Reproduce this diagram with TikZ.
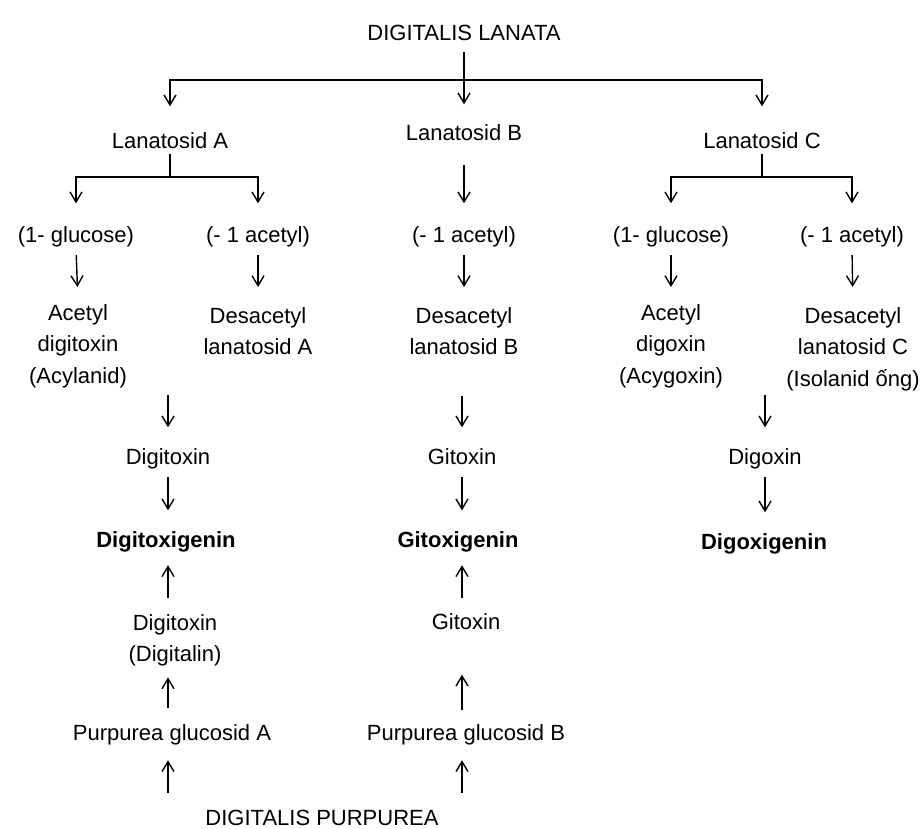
\documentclass[tikz,border=0pt]{standalone}
\usepackage{fontspec}
\setmainfont{Liberation Sans}
\usetikzlibrary{arrows.meta}
\begin{document}
\begin{tikzpicture}[x=1pt,y=-1pt,
  every node/.style={inner sep=0pt, font=\fontsize{22}{31.5}\selectfont},
  lbl/.style={text height=16pt, text depth=5pt},
  multi/.style={align=center, anchor=north},
  boldlbl/.style={lbl, font=\fontsize{22}{31.5}\selectfont\bfseries},
  ln/.style={line width=1.4pt},
  arr/.style={ln, -{Straight Barb[length=10pt,width=12pt,line width=1.4pt]}},
]
\useasboundingbox (0,0) rectangle (924,829);

% ---- nodes ----
\node[lbl] (lanata) at (464,35) {DIGITALIS LANATA};
\node[lbl] (lanA) at (170,143) {Lanatosid A};
\node[lbl] (lanB) at (464,135) {Lanatosid B};
\node[lbl] (lanC) at (762,143) {Lanatosid C};

\node[lbl] (gluA) at (76,237) {(1- glucose)};
\node[lbl] (acA) at (258,237) {(- 1 acetyl)};
\node[lbl] (acB) at (464,237) {(- 1 acetyl)};
\node[lbl] (gluC) at (671,237) {(1- glucose)};
\node[lbl] (acC) at (852,237) {(- 1 acetyl)};

\node[multi] (acylA) at (78,304) {Acetyl\\digitoxin\\(Acylanid)};
\node[multi] (desA) at (258,307) {Desacetyl\\lanatosid A};
\node[multi] (desB) at (464,307) {Desacetyl\\lanatosid B};
\node[multi] (acygC) at (671,304) {Acetyl\\digoxin\\(Acygoxin)};
\node[multi] (desC) at (853,307) {Desacetyl\\lanatosid C\\(Isolanid ống)};

\node[lbl] (dtxA) at (168,459) {Digitoxin};
\node[lbl] (gitB) at (462,459) {Gitoxin};
\node[lbl] (digC) at (765,459) {Digoxin};

\node[boldlbl] (dgA) at (166,542) {Digitoxigenin};
\node[boldlbl] (ggB) at (458,542) {Gitoxigenin};
\node[boldlbl] (dgC) at (764,544) {Digoxigenin};

\node[multi] (dtx2) at (175,614) {Digitoxin\\(Digitalin)};
\node[lbl] (gitB2) at (466,624) {Gitoxin};

\node[lbl] (purA) at (172,735) {Purpurea glucosid A};
\node[lbl] (purB) at (466,735) {Purpurea glucosid B};

\node[lbl] (purp) at (322,820) {DIGITALIS PURPUREA};

% ---- junctions ----
\coordinate (jTop) at (464,80);
\coordinate (jA) at (170,177);
\coordinate (jC) at (762,177);

% ---- connectors: top ----
\draw[arr, shorten <=6.5pt, shorten >=20pt] (lanata.south) -- (lanB.north);
\draw[arr, shorten >=26pt] (jTop) -| (lanA.north);
\draw[arr, shorten >=26pt] (jTop) -| (lanC.north);

\draw[ln] (lanA.south) -- (jA);
\draw[arr, shorten >=23pt] (jA) -| (gluA.north);
\draw[arr, shorten >=23pt] (jA) -| (acA.north);

\draw[ln] (lanC.south) -- (jC);
\draw[arr, shorten >=23pt] (jC) -| (gluC.north);
\draw[arr, shorten >=23pt] (jC) -| (acC.north);

\draw[arr, shorten <=19.5pt, shorten >=23pt] (lanB.south) -- (acB.north);

% ---- second level ----
\draw[arr, shorten <=7.5pt, shorten >=17pt] (gluA.south) -- (acylA.north);
\draw[arr, shorten <=7.5pt, shorten >=20pt] (acA.south) -- (desA.north);
\draw[arr, shorten <=7.5pt, shorten >=20pt] (acB.south) -- (desB.north);
\draw[arr, shorten <=7.5pt, shorten >=17pt] (gluC.south) -- (acygC.north);
\draw[arr, shorten <=7.5pt, shorten >=20pt] (acC.south) -- (desC.north);

% ---- to glycosides ----
\draw[arr, shorten <=7pt, shorten >=21pt] (acylA.south -| dtxA.north) -- (dtxA.north);
\draw[arr, shorten <=40.5pt, shorten >=21pt] (desB.south -| gitB.north) -- (gitB.north);
\draw[arr, shorten <=7pt, shorten >=21pt] (acygC.south -| digC.north) -- (digC.north);

% ---- to genins ----
\draw[arr, shorten <=7.5pt, shorten >=21pt] (dtxA.south) -- (dtxA.south |- dgA.north);
\draw[arr, shorten <=7.5pt, shorten >=21pt] (gitB.south) -- (gitB.south |- ggB.north);
\draw[arr, shorten <=7.5pt, shorten >=21pt] (digC.south) -- (digC.south |- dgC.north);

% ---- purpurea side (upward) ----
\draw[arr, shorten <=16pt, shorten >=12.5pt] (dtx2.north -| dtxA.south) -- (dtxA.south |- dgA.south);
\draw[arr, shorten <=15.5pt, shorten >=12.5pt] (gitB2.north -| gitB.south) -- (gitB.south |- ggB.south);
\draw[arr, shorten <=16.5pt, shorten >=11pt] (purA.north -| dtxA.south) -- (dtxA.south |- dtx2.south);
\draw[arr, shorten <=14.5pt, shorten >=40pt] (purB.north -| gitB.south) -- (gitB.south |- gitB2.south);
\draw[arr, shorten <=16.5pt, shorten >=14.5pt] (purp.north -| dtxA.south) -- (dtxA.south |- purA.south);
\draw[arr, shorten <=16.5pt, shorten >=14.5pt] (purp.north -| gitB.south) -- (gitB.south |- purB.south);
\end{tikzpicture}
\end{document}
